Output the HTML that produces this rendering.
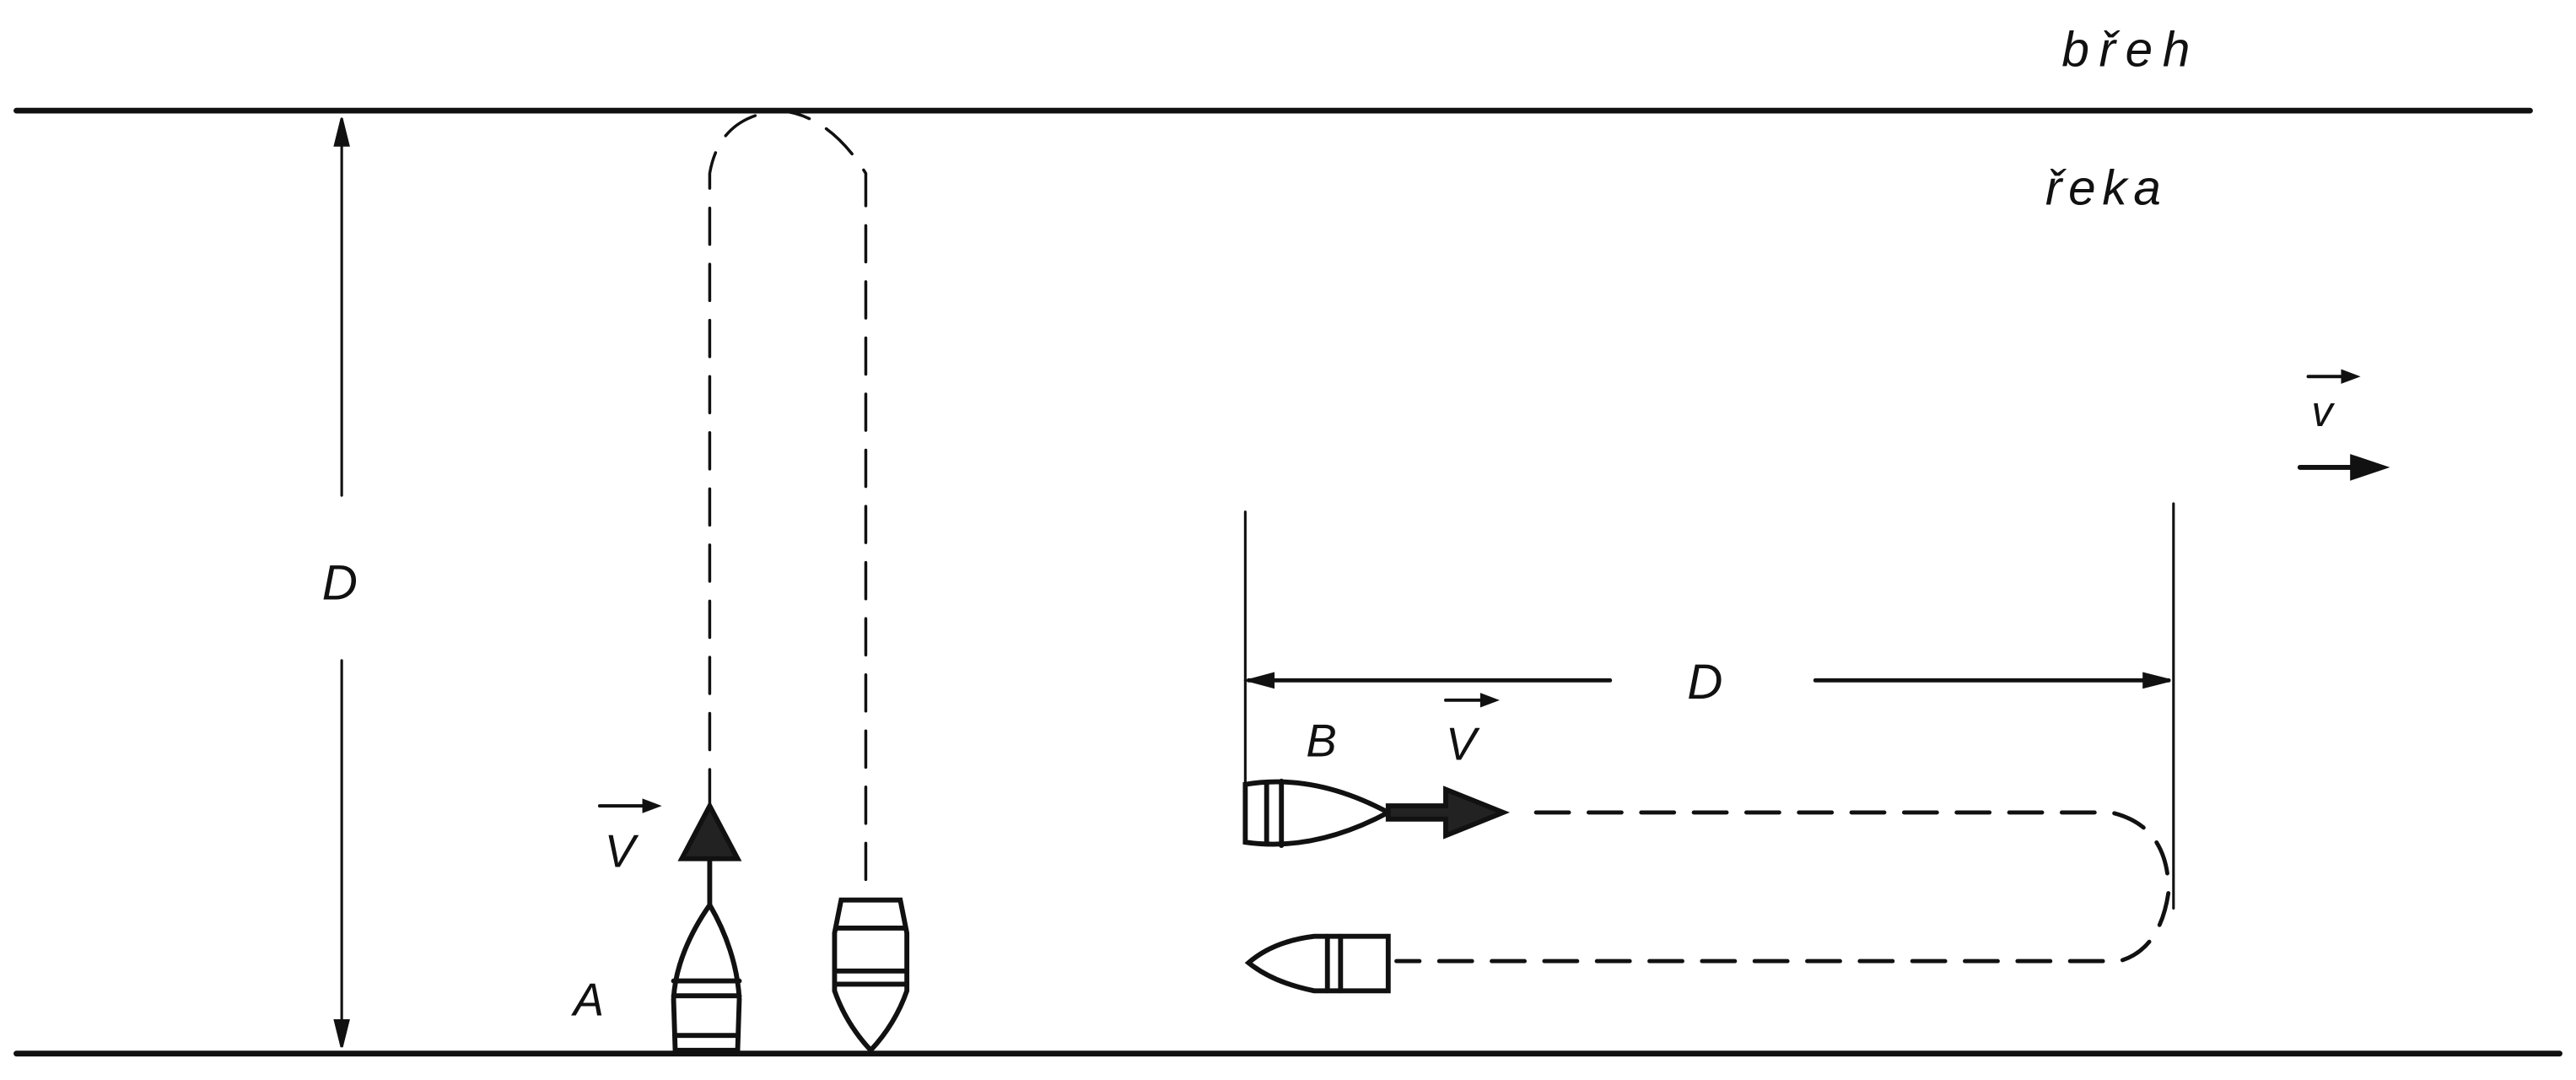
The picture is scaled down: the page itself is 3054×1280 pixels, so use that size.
<!DOCTYPE html>
<html><head><meta charset="utf-8"><style>
html,body{margin:0;padding:0;background:#fff;}
svg{display:block;}
text{font-family:"Liberation Sans",sans-serif;font-style:italic;fill:#111;}
</style></head><body>
<svg width="3054" height="1280" viewBox="0 0 1568 654" preserveAspectRatio="none" xmlns="http://www.w3.org/2000/svg">
<g stroke="#111" fill="none" stroke-linecap="round">
<line x1="10" y1="67" x2="1540" y2="67" stroke-width="3.5"/>
<line x1="10" y1="638" x2="1558" y2="638" stroke-width="3.5"/>
<g stroke-width="1.6">
<line x1="208" y1="72" x2="208" y2="300"/><line x1="208" y1="400" x2="208" y2="632"/>
<path d="M204,88 L208,72 L212,88 Z" fill="#111"/><path d="M204,618 L208,634 L212,618 Z" fill="#111"/>
</g>
<path d="M432,488 L432,105 Q438,70 475,67 Q505,70 527,105 L527,545" stroke-width="1.8" stroke-dasharray="22,12"/>
<g stroke-width="3">
<path d="M432,520 L432,548 C420,565 411,585 410,605 L411,636 L449,636 L450,605 C449,585 442,565 432,548"/>
<line x1="410" y1="594" x2="450" y2="594"/><line x1="410" y1="603" x2="450" y2="603"/><line x1="411" y1="627" x2="449" y2="627"/>
<path d="M432,488 L415,520 L449,520 Z" fill="#222"/>
</g>
<g stroke-width="3">
<path d="M512,545 L548,545 L552,565 L552,600 Q545,620 530,636 Q515,620 508,600 L508,565 Z"/>
<line x1="509" y1="562" x2="551" y2="562"/><line x1="509" y1="588" x2="551" y2="588"/><line x1="509" y1="596" x2="551" y2="596"/>
</g>
<g stroke-width="1.6">
<line x1="758" y1="310" x2="758" y2="490"/><line x1="1323" y1="305" x2="1323" y2="550"/>
<line x1="760" y1="412" x2="980" y2="412" stroke-width="2.5"/><line x1="1105" y1="412" x2="1320" y2="412" stroke-width="2.5"/>
<path d="M775,408 L760,412 L775,416 Z" fill="#111"/><path d="M1305,408 L1321,412 L1305,416 Z" fill="#111"/>
</g>
<path d="M935,492 L1285,492 Q1320,500 1320,540 Q1315,575 1290,582 L850,582" stroke-width="2.5" stroke-dasharray="20,12"/>
<g stroke-width="3">
<path d="M758,475 Q800,468 845,492 Q800,516 758,510 Z"/>
<line x1="771" y1="474" x2="771" y2="510"/><line x1="780" y1="473" x2="780" y2="512"/>
<path d="M845,488 L880,488 L880,478 L915,492 L880,506 L880,496 L845,496 Z" fill="#222"/>
</g>
<g stroke-width="3">
<path d="M845,567 L845,600 L800,600 Q775,595 760,583 Q775,570 800,567 Z"/>
<line x1="808" y1="567" x2="808" y2="600"/><line x1="816" y1="567" x2="816" y2="600"/>
</g>
<g stroke-width="3">
<line x1="1400" y1="283" x2="1435" y2="283"/><path d="M1432,277 L1450,283 L1432,289 Z" fill="#111"/>
</g>
<g stroke-width="2">
<line x1="365" y1="488" x2="395" y2="488"/><path d="M392,485 L400,488 L392,491 Z" fill="#111"/>
<line x1="880" y1="424" x2="905" y2="424"/><path d="M902,421 L910,424 L902,427 Z" fill="#111"/>
<line x1="1405" y1="228" x2="1428" y2="228"/><path d="M1426,225 L1434,228 L1426,231 Z" fill="#111"/>
</g>
</g>
<text x="1255" y="40" font-size="30" letter-spacing="6">břeh</text>
<text x="1245" y="124" font-size="30" letter-spacing="4">řeka</text>
<text x="196" y="363" font-size="30">D</text>
<text x="1027" y="423" font-size="30">D</text>
<text x="349" y="615" font-size="28">A</text>
<text x="795" y="458" font-size="28">B</text>
<text x="368" y="525" font-size="28">V</text>
<text x="880" y="460" font-size="28">V</text>
<text x="1407" y="258" font-size="26">v</text>
</svg>
</body></html>
